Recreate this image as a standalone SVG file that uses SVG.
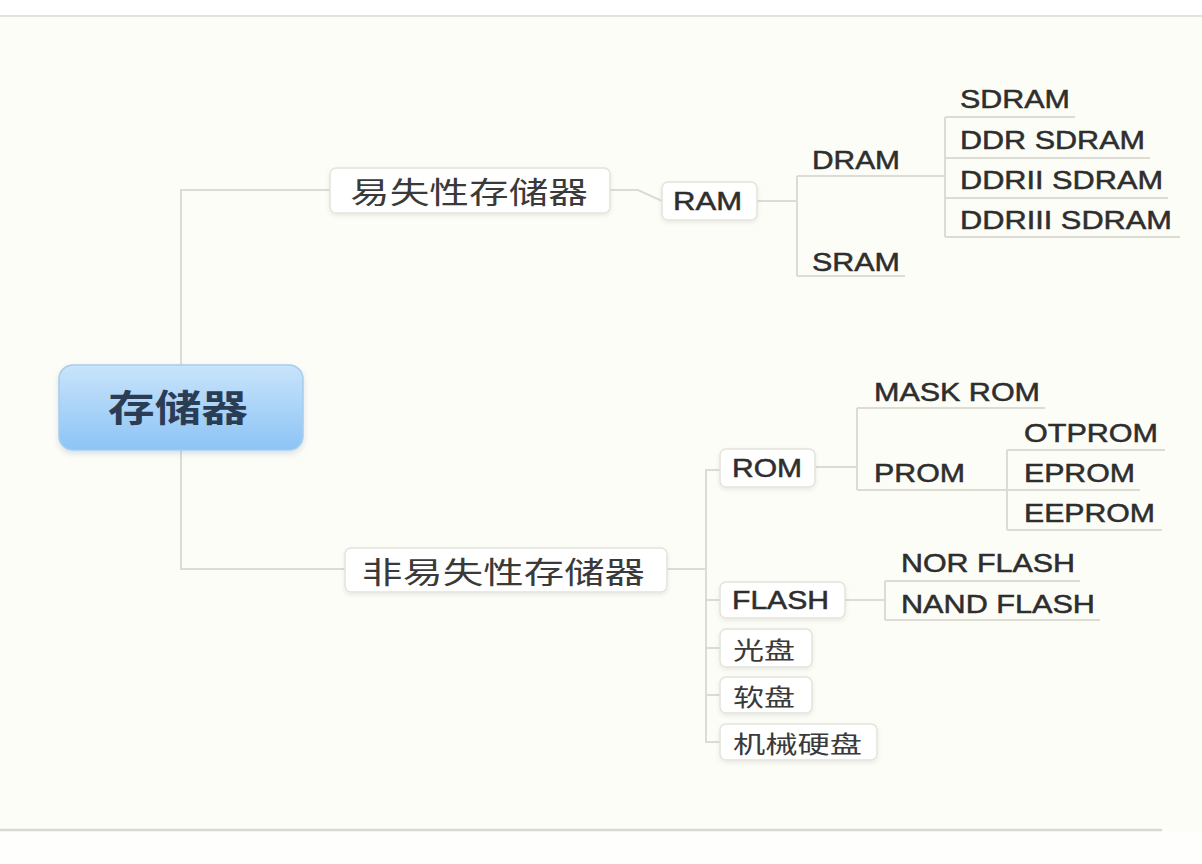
<svg xmlns="http://www.w3.org/2000/svg" width="1202" height="864" viewBox="0 0 1202 864">
<defs>
<linearGradient id="rootGrad" x1="0" y1="0" x2="0" y2="1">
<stop offset="0" stop-color="#c9e4fb"/>
<stop offset="1" stop-color="#8cc4f5"/>
</linearGradient>
<filter id="sh" x="-10%" y="-20%" width="120%" height="150%">
<feDropShadow dx="0" dy="2" stdDeviation="2" flood-color="#000" flood-opacity="0.08"/>
</filter>
<filter id="rsh" x="-10%" y="-20%" width="120%" height="150%">
<feDropShadow dx="0" dy="3" stdDeviation="3" flood-color="#6a8aa8" flood-opacity="0.25"/>
</filter>
</defs>
<style>
.box{fill:#ffffff;stroke:#e4e4dc;stroke-width:1.5;filter:url(#sh)}
.ln{fill:none;stroke:#dcdcd5;stroke-width:2}
.lat{font-family:"Liberation Sans",Arial,sans-serif;font-size:25px;fill:#2e2e2e;stroke:#2e2e2e;stroke-width:0.5;dominant-baseline:central}
.cjk{font-family:"Noto Sans CJK SC","Noto Sans",sans-serif;fill:#3a3a3a;dominant-baseline:central}
.l1{font-size:30px}
.l3{font-size:24px}
</style>
<rect x="0" y="0" width="1202" height="864" fill="#fdfdf8"/>
<rect x="0" y="0" width="1202" height="15" fill="#ffffff"/>
<line x1="0" y1="16" x2="1202" y2="16" stroke="#e2e2de" stroke-width="2"/>
<rect x="0" y="831" width="1202" height="33" fill="#fefefc"/>
<line x1="0" y1="830" x2="1162" y2="830" stroke="#d8d8d4" stroke-width="2.5"/>

<g id="connectors">
<path class="ln" d="M330 190 H181 V569 H345"/>
<path class="ln" d="M610 190 H638 L662 201"/>
<path class="ln" d="M757 201 H797 M797 176 V276 M797 176 H945 M797 276 H905"/>
<path class="ln" d="M945 117 V237 M945 117 H1075 M945 158 H1150 M945 198 H1168 M945 237 H1180"/>
<path class="ln" d="M667 569 H706 M720 470 H706 V742 H720 M706 600 H720 M706 648 H720 M706 695 H720"/>
<path class="ln" d="M815 467 H857 M857 408 V490 M857 408 H1045 M857 490 H1007"/>
<path class="ln" d="M1007 450 V530 M1007 450 H1165 M1007 490 H1140 M1007 530 H1162"/>
<path class="ln" d="M845 600 H885 M885 581 V620 M885 581 H1080 M885 620 H1100"/>
</g>

<g id="root">
<rect x="59" y="365" width="244" height="85" rx="14" fill="url(#rootGrad)" stroke="#a6cdee" stroke-width="1.5" filter="url(#rsh)"/>
<text x="108" y="406" class="cjk" font-size="37" font-weight="bold" fill="#2b3d55" style="fill:#2b3d55" textLength="140" lengthAdjust="spacingAndGlyphs">存储器</text>
</g>

<g id="volatile">
<rect class="box" x="330" y="168" width="280" height="45" rx="6"/>
<text x="350" y="190" class="cjk l1" textLength="238" lengthAdjust="spacingAndGlyphs">易失性存储器</text>
</g>
<g id="nonvolatile">
<rect class="box" x="345" y="548" width="322" height="44" rx="6"/>
<text x="362" y="570" class="cjk l1" textLength="283" lengthAdjust="spacingAndGlyphs">非易失性存储器</text>
</g>

<g id="ram">
<rect class="box" x="662" y="182" width="95" height="38" rx="6"/>
<text x="673" y="201" class="lat" textLength="69" lengthAdjust="spacingAndGlyphs">RAM</text>
</g>
<g id="dram"><text x="812" y="160" class="lat" textLength="88" lengthAdjust="spacingAndGlyphs">DRAM</text></g>
<g id="sram"><text x="812" y="262" class="lat" textLength="88" lengthAdjust="spacingAndGlyphs">SRAM</text></g>
<g id="sdram"><text x="960" y="99" class="lat" textLength="110" lengthAdjust="spacingAndGlyphs">SDRAM</text></g>
<g id="ddr"><text x="960" y="140" class="lat" textLength="185" lengthAdjust="spacingAndGlyphs">DDR SDRAM</text></g>
<g id="ddr2"><text x="960" y="180" class="lat" textLength="203" lengthAdjust="spacingAndGlyphs">DDRII SDRAM</text></g>
<g id="ddr3"><text x="960" y="220" class="lat" textLength="212" lengthAdjust="spacingAndGlyphs">DDRIII SDRAM</text></g>

<g id="rom">
<rect class="box" x="720" y="449" width="95" height="38" rx="6"/>
<text x="732" y="468" class="lat" textLength="70" lengthAdjust="spacingAndGlyphs">ROM</text>
</g>
<g id="maskrom"><text x="874" y="392" class="lat" textLength="166" lengthAdjust="spacingAndGlyphs">MASK ROM</text></g>
<g id="prom"><text x="874" y="473" class="lat" textLength="91" lengthAdjust="spacingAndGlyphs">PROM</text></g>
<g id="otprom"><text x="1024" y="433" class="lat" textLength="134" lengthAdjust="spacingAndGlyphs">OTPROM</text></g>
<g id="eprom"><text x="1024" y="473" class="lat" textLength="111" lengthAdjust="spacingAndGlyphs">EPROM</text></g>
<g id="eeprom"><text x="1024" y="513" class="lat" textLength="131" lengthAdjust="spacingAndGlyphs">EEPROM</text></g>

<g id="flash">
<rect class="box" x="720" y="582" width="125" height="36" rx="6"/>
<text x="732" y="600" class="lat" textLength="97" lengthAdjust="spacingAndGlyphs">FLASH</text>
</g>
<g id="norflash"><text x="901" y="563" class="lat" textLength="174" lengthAdjust="spacingAndGlyphs">NOR FLASH</text></g>
<g id="nandflash"><text x="901" y="604" class="lat" textLength="194" lengthAdjust="spacingAndGlyphs">NAND FLASH</text></g>

<g id="guangpan">
<rect class="box" x="720" y="629" width="92" height="38" rx="6"/>
<text x="733" y="648" class="cjk l3" textLength="62" lengthAdjust="spacingAndGlyphs">光盘</text>
</g>
<g id="ruanpan">
<rect class="box" x="720" y="677" width="92" height="36" rx="6"/>
<text x="733" y="695" class="cjk l3" textLength="62" lengthAdjust="spacingAndGlyphs">软盘</text>
</g>
<g id="yingpan">
<rect class="box" x="720" y="724" width="157" height="36" rx="6"/>
<text x="733" y="742" class="cjk l3" textLength="129" lengthAdjust="spacingAndGlyphs">机械硬盘</text>
</g>
</svg>
